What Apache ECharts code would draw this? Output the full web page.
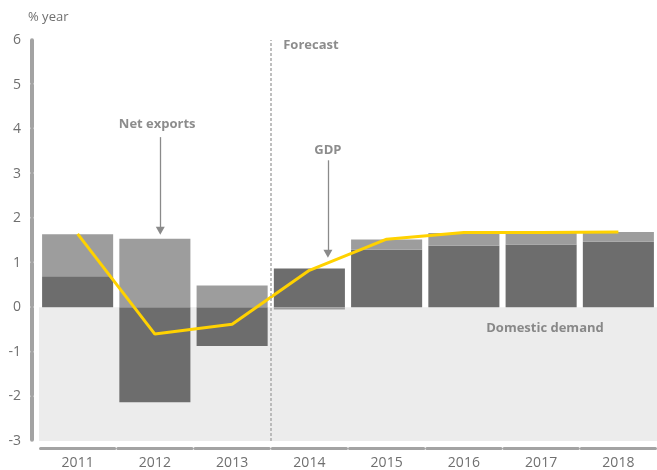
<!DOCTYPE html>
<html>
<head>
<meta charset="utf-8">
<script src="https://cdn.jsdelivr.net/npm/echarts@6/dist/echarts.min.js"></script>
<style>
  html, body { margin: 0; padding: 0; background: #fff; }
  #chart { width: 657px; height: 470px; }
</style>
</head>
<body>
<div id="chart"></div>
<script>
// Contributions to GDP growth, % year
const years = ['2011', '2012', '2013', '2014', '2015', '2016', '2017', '2018'];
const domesticDemand = [0.70, -2.13, -0.87, 0.87, 1.29, 1.38, 1.41, 1.47];
const netExports = [0.94, 1.54, 0.49, -0.05, 0.23, 0.29, 0.27, 0.22];
const gdp = [1.65, -0.60, -0.38, 0.83, 1.53, 1.68, 1.68, 1.69];
const yTicks = { min: -3, max: 6, step: 1 };

// Annotation texts and arrows, in (category index, value) coordinates
const noteTexts = ['Forecast', 'Net exports', 'GDP', 'Domestic demand'];
const notePos = [[3.02, 5.88], [1.03, 4.11], [3.24, 3.53], [6.05, -0.48]];
const arrows = [
  [[1.07, 3.82], [1.07, 1.72]],
  [[3.24, 3.30], [3.24, 1.20]]
];
const forecastStart = 2.5;

const W = 657, H = 470;
const grid = { left: 39, right: 0, top: 40, bottom: 28 };
const catW = (W - grid.left - grid.right) / years.length;
const unitH = (H - grid.top - grid.bottom) / ((yTicks.max - yTicks.min) / yTicks.step);

const textGrey = '#6f6f6f';
const axisGrey = '#a3a3a3';
const font = '"Open Sans", "Noto Sans", sans-serif';

const chart = echarts.init(document.getElementById('chart'), null, { renderer: 'canvas' });

chart.setOption({
  animation: false,
  grid: grid,
  xAxis: [
    {
      type: 'category',
      data: years,
      offset: 7,
      axisLine: {
        show: true,
        onZero: false,
        lineStyle: { color: axisGrey, width: 3, type: [catW - 3, 3], dashOffset: catW - 1.5 }
      },
      axisTick: { show: false },
      axisLabel: { color: textGrey, fontSize: 14, fontFamily: font, margin: 8 },
      splitLine: { show: false }
    },
    {
      type: 'value',
      min: -0.5,
      max: years.length - 0.5,
      show: false,
      axisLine: { onZero: false }
    }
  ],
  yAxis: {
    type: 'value',
    min: yTicks.min,
    max: yTicks.max,
    interval: yTicks.step,
    offset: 7,
    name: '% year',
    nameLocation: 'end',
    nameGap: 16,
    nameTextStyle: { color: textGrey, fontSize: 13, fontFamily: font, align: 'left', padding: [0, 0, 0, -4] },
    axisLine: {
      show: true,
      onZero: false,
      lineStyle: { color: axisGrey, width: 4, type: [unitH - 2.5, 2.5], dashOffset: unitH - 1.25 }
    },
    axisTick: { show: false },
    axisLabel: { color: textGrey, fontSize: 14, fontFamily: font, margin: 11 },
    splitLine: { show: false }
  },
  series: [
    {
      // shaded band below zero
      name: 'band',
      type: 'line',
      xAxisIndex: 1,
      data: [],
      silent: true,
      z: 0,
      markArea: {
        silent: true,
        itemStyle: { color: '#ececec' },
        data: [[{ yAxis: 0 }, { yAxis: yTicks.min }]]
      }
    },
    {
      name: 'Domestic demand',
      type: 'bar',
      stack: 'total',
      data: domesticDemand,
      barCategoryGap: '8%',
      itemStyle: { color: '#6d6d6d' },
      z: 2
    },
    {
      name: 'Net exports',
      type: 'bar',
      stack: 'total',
      data: netExports,
      barCategoryGap: '8%',
      itemStyle: { color: '#9d9d9d' },
      z: 2
    },
    {
      name: 'GDP',
      type: 'line',
      data: gdp,
      symbol: 'none',
      lineStyle: { color: '#ffd200', width: 3 },
      z: 3
    },
    {
      name: 'notes',
      type: 'scatter',
      xAxisIndex: 1,
      data: notePos.map((p, i) => ({ value: p, name: noteTexts[i] })),
      symbolSize: 0,
      silent: true,
      z: 4,
      label: {
        show: true,
        position: 'inside',
        formatter: p => p.name,
        color: textGrey,
        fontSize: 13,
        fontWeight: 'bold',
        fontFamily: font
      },
      markLine: {
        silent: true,
        symbol: ['none', 'none'],
        label: { show: false },
        data: [
          {
            xAxis: forecastStart,
            lineStyle: { color: '#aaaaaa', width: 1.5, type: [3, 2] }
          }
        ].concat(arrows.map(a => [
          { coord: a[0], symbol: 'none', lineStyle: { color: '#8a8a8a', width: 1.3, type: 'solid' } },
          { coord: a[1], symbol: 'triangle', symbolSize: [9, 8], symbolRotate: 180 }
        ]))
      }
    }
  ]
});
</script>
</body>
</html>
